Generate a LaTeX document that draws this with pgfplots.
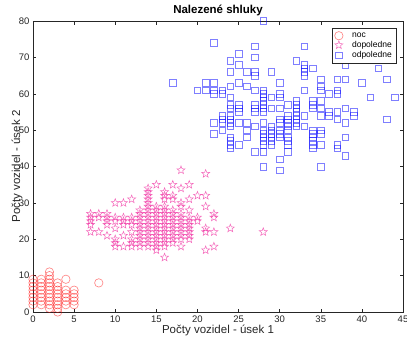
\documentclass[border=0pt]{standalone}
\usepackage{pgfplots}
\pgfplotsset{compat=1.18}
\usepackage{fontspec}
\setmainfont{Liberation Sans}
\definecolor{axgray}{rgb}{0.15,0.15,0.15}
\pgfdeclareplotmark{star5}{%
  \pgfpathmoveto{\pgfpointpolar{90}{\pgfplotmarksize}}%
  \pgfpathlineto{\pgfpointpolar{126}{0.42\pgfplotmarksize}}%
  \pgfpathlineto{\pgfpointpolar{162}{\pgfplotmarksize}}%
  \pgfpathlineto{\pgfpointpolar{198}{0.42\pgfplotmarksize}}%
  \pgfpathlineto{\pgfpointpolar{234}{\pgfplotmarksize}}%
  \pgfpathlineto{\pgfpointpolar{270}{0.42\pgfplotmarksize}}%
  \pgfpathlineto{\pgfpointpolar{306}{\pgfplotmarksize}}%
  \pgfpathlineto{\pgfpointpolar{342}{0.42\pgfplotmarksize}}%
  \pgfpathlineto{\pgfpointpolar{18}{\pgfplotmarksize}}%
  \pgfpathlineto{\pgfpointpolar{54}{0.42\pgfplotmarksize}}%
  \pgfpathclose
  \pgfusepathqstroke
}
\begin{document}
\begin{tikzpicture}
\begin{axis}[
  scale only axis,
  width=370pt, height=291pt,
  xmin=0, xmax=45, ymin=0, ymax=80,
  xtick={0,5,...,45}, ytick={0,10,...,80},
  tick align=inside,
  major tick length=3.5pt,
  axis line style={axgray, line width=0.5pt},
  tick style={axgray, line width=0.5pt},
  ticklabel style={font=\fontsize{9.5}{11}\selectfont, text=axgray},
  /pgf/number format/assume math mode=true,
  title={\bfseries Nalezené shluky},
  title style={font=\fontsize{11.5}{13}\selectfont, at={(axis description cs:0.5,1.017)}, anchor=center},
  xlabel={Počty vozidel - úsek 1},
  ylabel={Počty vozidel - úsek 2},
  label style={font=\fontsize{11.5}{14}\selectfont, text=axgray},
  xlabel style={at={(axis description cs:0.5,-0.062)}, anchor=center},
  ylabel style={at={(axis description cs:-0.043,0.5)}, anchor=center},
  legend style={at={(axis description cs:0.981,0.976)}, anchor=north east,
    font=\fontsize{8.5}{9.5}\selectfont, draw=axgray, line width=0.4pt,
    row sep=-1.5pt, inner xsep=2pt, inner ysep=2.5pt,
    /tikz/every odd column/.style={column sep=7pt}},
  legend cell align=left,
  clip=false,
]
\addplot[only marks, mark=o, mark size=4.2pt, draw=red, draw opacity=0.5, line width=0.6pt] coordinates {
(0,2)(0,3)(0,4)(0,5)(0,6)(0,7)(0,8)(0,9)
(1,2)(1,3)(1,4)(1,5)(1,6)(1,7)(1,8)(1,9)
(2,1)(2,2)(2,3)(2,4)(2,5)(2,6)(2,7)(2,8)(2,9)(2,10)(2,11)
(3,0)(3,1)(3,2)(3,3)(3,4)(3,5)(3,6)(3,7)(3,8)
(4,2)(4,3)(4,4)(4,5)(4,6)(4,9)
(5,2)(5,3)(5,4)(5,5)(5,6)
(8,8)
};
\addlegendentry{noc}
\addplot[only marks, mark=star5, mark size=4.2pt, draw=magenta, draw opacity=0.6, line width=0.5pt] coordinates {
(7,22)(7,24)(7,25)(7,26)(7,27)
(8,22)(8,26)(8,27)
(9,21)(9,24)(9,25)(9,26)(9,27)
(10,18)(10,19)(10,20)(10,23)(10,25)(10,26)(10,30)
(11,18)(11,21)(11,24)(11,25)(11,26)(11,30)
(12,18)(12,19)(12,20)(12,22)(12,24)(12,25)(12,26)(12,31)
(13,18)(13,19)(13,20)(13,21)(13,22)(13,23)(13,24)(13,25)(13,26)(13,27)(13,28)
(14,18)(14,19)(14,20)(14,21)(14,22)(14,23)(14,24)(14,25)(14,26)(14,27)(14,28)(14,29)(14,30)(14,31)(14,32)(14,33)(14,34)
(15,17)(15,18)(15,19)(15,20)(15,21)(15,22)(15,23)(15,24)(15,25)(15,26)(15,27)(15,28)(15,29)(15,35)
(16,15)(16,18)(16,19)(16,20)(16,21)(16,22)(16,23)(16,24)(16,25)(16,26)(16,27)(16,28)(16,29)(16,31)(16,32)(16,33)
(17,19)(17,20)(17,21)(17,22)(17,23)(17,24)(17,25)(17,26)(17,27)(17,28)(17,31)(17,32)(17,35)
(18,18)(18,20)(18,21)(18,22)(18,23)(18,24)(18,25)(18,26)(18,27)(18,29)(18,30)(18,34)(18,39)
(19,20)(19,21)(19,22)(19,23)(19,24)(19,25)(19,26)(19,28)(19,31)(19,35)
(20,25)(20,26)(20,32)
(21,17)(21,22)(21,23)(21,29)(21,32)(21,38)
(22,18)(22,22)(22,26)(22,27)
(24,23)(28,22)
};
\addlegendentry{dopoledne}
\addplot[only marks, mark=square, mark size=3.3pt, draw=blue, draw opacity=0.5, line width=0.6pt] coordinates {
(17,63)(20,61)(21,63)(21,61)
(22,74)(22,63)(22,61)(22,60)(22,49)(22,52)
(23,61)(23,60)(23,54)(23,53)(23,52)(23,50)
(24,69)(24,66)(24,62)(24,59)(24,54)(24,53)(24,52)(24,51)(24,48)(24,47)(24,46)(24,45)(24,56)(24,57)
(25,71)(25,68)(25,63)(25,57)(25,56)(25,55)(25,52)(25,46)
(26,66)(26,62)(26,52)(26,50)(26,48)
(27,73)(27,70)(27,66)(27,65)(27,61)(27,57)(27,56)(27,55)(27,51)(27,44)
(28,80)(28,61)(28,60)(28,59)(28,58)(28,57)(28,56)(28,55)(28,52)(28,50)(28,49)(28,48)(28,47)(28,46)(28,44)(28,40)
(29,66)(29,59)(29,56)(29,51)(29,50)(29,49)(29,48)(29,47)(29,46)
(30,63)(30,60)(30,59)(30,56)(30,53)(30,52)(30,50)(30,49)(30,48)(30,42)(30,39)
(31,57)(31,54)(31,53)(31,52)(31,51)(31,50)(31,48)(31,47)(31,46)(31,44)
(32,69)(32,58)(32,57)(32,56)(32,55)(32,54)(32,53)(32,52)(32,51)
(33,73)(33,68)(33,67)(33,66)(33,65)(33,61)(33,54)(33,51)
(34,67)(34,58)(34,57)(34,56)(34,50)(34,49)(34,48)(34,47)(34,46)(34,45)
(35,64)(35,62)(35,61)(35,58)(35,56)(35,54)(35,50)(35,49)(35,46)(35,40)
(36,60)(36,55)(36,54)
(37,64)(37,61)(37,60)(37,55)(37,53)(37,46)(37,45)
(38,68)(38,64)(38,56)(38,52)(38,48)(38,43)
(39,55)(39,54)
(40,63)(41,59)(42,67)(43,64)(43,53)(44,59)
};
\addlegendentry{odpoledne}
\end{axis}
\pgfresetboundingbox
\path (-33pt,-26pt) rectangle (374pt,312pt);
\end{tikzpicture}
\end{document}
